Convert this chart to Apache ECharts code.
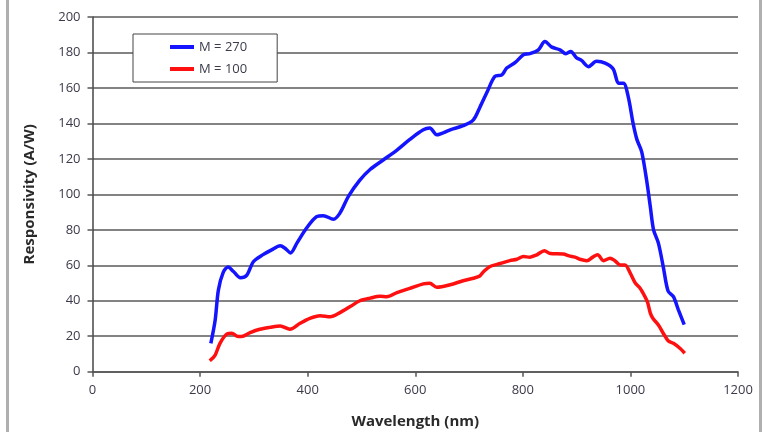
<!DOCTYPE html>
<html>
<head>
<meta charset="utf-8">
<script src="https://cdn.jsdelivr.net/npm/echarts@6/dist/echarts.min.js"></script>
<style>
  html, body { margin: 0; padding: 0; background: #fff; }
  #chart { width: 768px; height: 432px; }
</style>
</head>
<body>
<div id="chart"></div>
<script>
// 数据: [波长 nm, 响应度 A/W]
var seriesNames = ["M = 270", "M = 100"];
var xTicks = [0, 200, 400, 600, 800, 1000, 1200];
var yTicks = [0, 20, 40, 60, 80, 100, 120, 140, 160, 180, 200];

var m270 = [
  [220, 16], [228, 29], [234, 46], [243, 56], [252, 59], [262, 56.5], [275, 53], [287, 54.5],
  [299, 62], [317, 66], [333, 68.7], [349, 71], [358, 69.6], [368, 67], [380, 72.5], [398, 81],
  [417, 87.5], [429, 88], [448, 86], [460, 89.4], [476, 99], [497, 108], [516, 114], [541, 119.5],
  [566, 125], [590, 131], [615, 136.4], [627, 137.4], [640, 133.6], [665, 136.4], [689, 138.7],
  [708, 142], [720, 149], [734, 158], [748, 166.5], [761, 167.4], [770, 171.2], [786, 174.4],
  [801, 178.7], [813, 179.3], [829, 181.5], [841, 186.2], [854, 183], [869, 181.5], [880, 179.3],
  [889, 180.6], [900, 177], [909, 175.5], [922, 172], [937, 175], [953, 174], [968, 170.7],
  [978, 162.7], [987, 162.7], [996, 155], [1005, 140], [1012, 131], [1021, 124], [1030, 108.2],
  [1037, 93], [1043, 80], [1052, 72.5], [1061, 59.3], [1070, 45.5], [1080, 42.3], [1089, 35],
  [1100, 26.5]
];

var m100 = [
  [218, 6.2], [228, 9.4], [237, 16], [250, 21.3], [259, 21.7], [268, 20.1], [277, 19.8], [293, 22],
  [311, 23.9], [330, 25], [349, 25.8], [367, 23.9], [386, 27.3], [404, 30.1], [423, 31.6], [442, 31],
  [460, 33.3], [479, 36.7], [497, 40], [516, 41.5], [535, 42.5], [547, 42.3], [566, 44.6], [590, 47],
  [615, 49.5], [627, 49.9], [640, 47.6], [665, 49], [689, 51.3], [708, 52.7], [720, 54], [727, 56.4],
  [739, 59.3], [758, 61], [776, 62.6], [789, 63.4], [801, 64.9], [813, 64.6], [826, 65.9], [840, 68.2],
  [851, 66.6], [875, 66.4], [886, 65.3], [897, 64.6], [906, 63.4], [919, 62.6], [930, 64.6], [939, 66],
  [950, 62.6], [962, 64], [971, 62.6], [981, 60.2], [990, 60.2], [999, 56], [1009, 50], [1018, 47],
  [1027, 42.3], [1032, 39], [1037, 33], [1042, 30], [1052, 26.4], [1061, 21.7], [1070, 17.5],
  [1080, 16], [1092, 13.2], [1101, 10.4]
];

var chart = echarts.init(document.getElementById("chart"));
var labelColor = "#3b3b4a";
var option = {
  animation: false,
  backgroundColor: "#fff",
  graphic: [
    // 外框左右灰边
    { type: "rect", left: 6, top: 0, shape: { width: 3, height: 432 }, style: { fill: "#b0b0b0" } },
    { type: "rect", left: 759, top: 0, shape: { width: 3, height: 432 }, style: { fill: "#b0b0b0" } }
  ],
  grid: { left: 92.5, right: 30, top: 17, bottom: 60.3, outerBoundsMode: "none", containLabel: false },
  legend: {
    left: 133,
    top: 34,
    orient: "vertical",
    data: seriesNames,
    icon: "rect",
    itemWidth: 24,
    itemHeight: 4,
    itemGap: 8,
    padding: [6, 30, 6, 37],
    backgroundColor: "#fff",
    borderColor: "#444",
    borderWidth: 1,
    textStyle: { fontFamily: "Open Sans", fontSize: 13, color: labelColor, lineHeight: 14, height: 14 }
  },
  xAxis: {
    type: "value",
    min: 0,
    max: 1200,
    interval: 200,
    name: "Wavelength (nm)",
    nameLocation: "middle",
    nameGap: 43,
    nameTextStyle: { fontFamily: "Open Sans", fontSize: 15, fontWeight: "bold", color: "#2a2a2a" },
    axisLine: { show: true, lineStyle: { color: "#555", width: 1.5 } },
    axisTick: { show: true, length: 5, lineStyle: { color: "#555", width: 1.5 } },
    axisLabel: {
      margin: 12, fontFamily: "Open Sans", fontSize: 13, color: labelColor,
      formatter: function (v) { return String(v); }
    },
    splitLine: { show: false }
  },
  yAxis: {
    type: "value",
    min: 0,
    max: 200,
    interval: 20,
    name: "Responsivity (A/W)",
    nameLocation: "middle",
    nameGap: 55,
    nameTextStyle: { fontFamily: "Open Sans", fontSize: 15, fontWeight: "bold", color: "#2a2a2a" },
    axisLine: { show: true, lineStyle: { color: "#444", width: 1.5 } },
    axisTick: { show: true, length: 5, lineStyle: { color: "#555", width: 1.5 } },
    axisLabel: {
      margin: 12, fontFamily: "Open Sans", fontSize: 13, color: labelColor,
      formatter: function (v) { return String(v); }
    },
    splitLine: { show: true, lineStyle: { color: "#5a5a5a", width: 1.5 } }
  },
  series: [
    {
      name: seriesNames[0],
      type: "line",
      symbol: "none",
      smooth: 0.3,
      itemStyle: { color: "#1414ff" },
      lineStyle: { color: "#1414ff", width: 3.5 },
      data: m270
    },
    {
      name: seriesNames[1],
      type: "line",
      symbol: "none",
      smooth: 0.3,
      itemStyle: { color: "#ff1010" },
      lineStyle: { color: "#ff1010", width: 3.5 },
      data: m100
    }
  ]
};
chart.setOption(option);
</script>
</body>
</html>
